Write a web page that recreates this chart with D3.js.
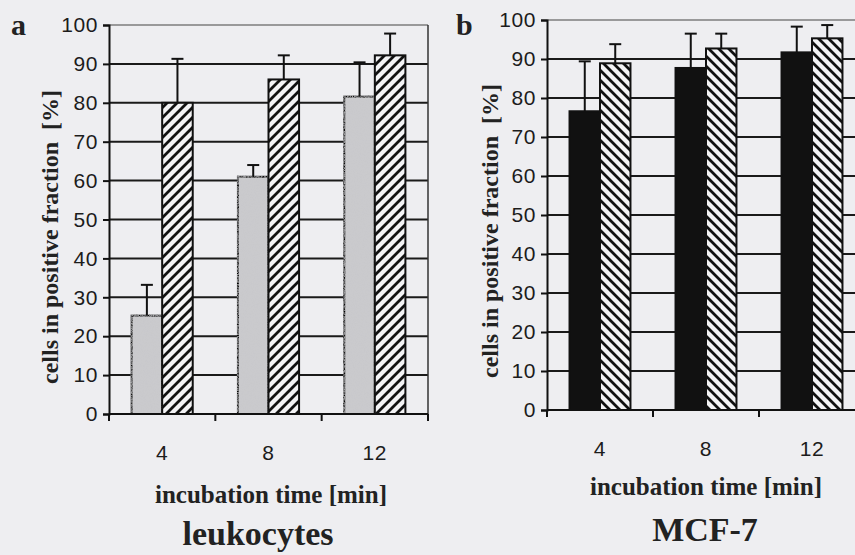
<!DOCTYPE html>
<html>
<head>
<meta charset="utf-8">
<script src="https://cdn.jsdelivr.net/npm/d3@7"></script>
<style>
  body { margin: 0; background: #eeeef1; }
  svg { display: block; }
</style>
</head>
<body>
<div id="chart"></div>
<script>
// categories and values
var times = ['4', '8', '12'];
var yTicks = [0, 10, 20, 30, 40, 50, 60, 70, 80, 90, 100];

var leukGray = [25.3, 61, 81.6];
var leukGrayErr = [7.9, 3, 8.8];
var leukHatch = [80, 86, 92.2];
var leukHatchErr = [11.3, 6.2, 5.6];

var mcfBlack = [76.6, 87.7, 91.7];
var mcfBlackErr = [12.8, 8.8, 6.6];
var mcfHatch = [88.9, 92.7, 95.3];
var mcfHatchErr = [4.9, 3.8, 3.4];

var W = 855, H = 555;
var serif = '"Liberation Serif", "Times New Roman", serif';
var sans = '"Liberation Sans", Arial, sans-serif';

var svg = d3.select('#chart').append('svg')
    .attr('width', W)
    .attr('height', H);

svg.append('rect').attr('width', W).attr('height', H).attr('fill', '#eeeef1');

var defs = svg.append('defs');

//hatch patterns, forward for leukocytes, backward for MCF-7
function makeHatch(id, d) {
    var p = defs.append('pattern')
        .attr('id', id)
        .attr('patternUnits', 'userSpaceOnUse')
        .attr('width', 10).attr('height', 10);
    p.append('rect').attr('width', 10).attr('height', 10).attr('fill', '#f3f3f5');
    p.append('path')
        .attr('d', d)
        .attr('stroke', '#111').attr('stroke-width', 2.8);
}
makeHatch('hatchFwd', 'M0,10 L10,0 M-3,3 L3,-3 M7,13 L13,7');
makeHatch('hatchBack', 'M0,0 L10,10 M-3,7 L3,13 M7,-3 L13,3');

//grainy gray for leukocytes bars
var grain = defs.append('filter').attr('id', 'grain');
grain.append('feTurbulence')
    .attr('type', 'fractalNoise').attr('baseFrequency', 0.9)
    .attr('numOctaves', 2).attr('seed', 3).attr('result', 'n');
grain.append('feColorMatrix')
    .attr('in', 'n').attr('type', 'matrix')
    .attr('values', '0 0 0 0 0.6  0 0 0 0 0.6  0 0 0 0 0.62  0 0 0 -1.2 0.85')
    .attr('result', 'dots');
grain.append('feComposite').attr('in', 'dots').attr('in2', 'SourceGraphic').attr('operator', 'in').attr('result', 'd2');
grain.append('feMerge').selectAll('feMergeNode')
    .data(['SourceGraphic', 'd2']).enter().append('feMergeNode').attr('in', function(d) { return d; });

function drawPanel(opt) {
    var x = d3.scaleBand()
        .domain(times)
        .range([opt.left, opt.right])
        .paddingInner(0.425)
        .paddingOuter(0.2125);

    var sub = d3.scaleBand()
        .domain([0, 1])
        .range([0, x.bandwidth()]);

    var y = d3.scaleLinear()
        .domain([0, 100])
        .range([opt.bottom, opt.top]);

    var g = svg.append('g');

    //gridlines
    g.append('g').selectAll('line')
        .data(yTicks.filter(function(d) { return d > 0 && d < 100; }))
        .enter().append('line')
            .attr('x1', opt.left).attr('x2', opt.right)
            .attr('y1', function(d) { return y(d); })
            .attr('y2', function(d) { return y(d); })
            .attr('stroke', '#1a1a1a').attr('stroke-width', 2);

    //top and right border of the plot area
    g.append('line')
        .attr('x1', opt.left).attr('x2', opt.right)
        .attr('y1', y(100)).attr('y2', y(100))
        .attr('stroke', '#444').attr('stroke-width', 1.2);
    g.append('line')
        .attr('x1', opt.right).attr('x2', opt.right)
        .attr('y1', y(100)).attr('y2', y(0))
        .attr('stroke', '#333').attr('stroke-width', 1.5);

    var series = [
        {vals: opt.v1, errs: opt.e1, fill: opt.fill1, filter: opt.filter1},
        {vals: opt.v2, errs: opt.e2, fill: opt.fill2, filter: null}
    ];

    series.forEach(function(s, si) {
        g.append('g').selectAll('rect')
            .data(s.vals)
            .enter().append('rect')
                .attr('x', function(d, i) { return x(times[i]) + sub(si); })
                .attr('y', function(d) { return y(d); })
                .attr('width', sub.bandwidth())
                .attr('height', function(d) { return y(0) - y(d); })
                .attr('fill', s.fill)
                .attr('filter', s.filter ? 'url(#' + s.filter + ')' : null)
                .attr('stroke', '#111').attr('stroke-width', 2);

        //error bars (upper only)
        var eb = g.append('g').attr('stroke', '#111').attr('stroke-width', 2);
        s.vals.forEach(function(d, i) {
            var cx = x(times[i]) + sub(si) + sub.bandwidth() / 2;
            eb.append('line')
                .attr('x1', cx).attr('x2', cx)
                .attr('y1', y(d)).attr('y2', y(d + s.errs[i]));
            eb.append('line')
                .attr('x1', cx - 6).attr('x2', cx + 6)
                .attr('y1', y(d + s.errs[i])).attr('y2', y(d + s.errs[i]));
        });
    });

    //y axis
    var yAxis = d3.axisLeft(y).tickValues(yTicks).tickSize(6).tickPadding(5);
    var ya = g.append('g')
        .attr('transform', 'translate(' + opt.left + ',0)')
        .call(yAxis);
    ya.select('.domain').attr('stroke', '#111').attr('stroke-width', 2);
    ya.selectAll('.tick line').attr('stroke', '#111').attr('stroke-width', 2);
    ya.selectAll('.tick text')
        .attr('fill', '#1c1c1c')
        .style('font-family', sans)
        .style('font-size', '21px')
        .style('letter-spacing', '0.6px');

    //x axis, ticks at the category boundaries
    var xa = g.append('g')
        .attr('transform', 'translate(0,' + y(0) + ')');
    xa.append('line')
        .attr('x1', opt.left).attr('x2', opt.right)
        .attr('stroke', '#111').attr('stroke-width', 2);
    var bounds = times.map(function(d) { return x(d) - (x.step() - x.bandwidth()) / 2; });
    bounds.push(opt.right);
    xa.selectAll('.xt')
        .data(bounds)
        .enter().append('line')
            .attr('class', 'xt')
            .attr('x1', function(d) { return d; })
            .attr('x2', function(d) { return d; })
            .attr('y1', 0).attr('y2', 7)
            .attr('stroke', '#111').attr('stroke-width', 2);
    xa.selectAll('.xl')
        .data(times)
        .enter().append('text')
            .attr('class', 'xl')
            .attr('x', function(d) { return x(d) + x.bandwidth() / 2; })
            .attr('y', 46)
            .attr('text-anchor', 'middle')
            .attr('fill', '#1c1c1c')
            .style('font-family', sans)
            .style('font-size', '21px')
            .style('letter-spacing', '0.6px')
            .text(function(d) { return d; });

    //titles
    svg.append('text')
        .attr('x', opt.letterX).attr('y', 35)
        .style('font-family', serif)
        .style('font-weight', 'bold')
        .style('font-size', '30px')
        .attr('fill', '#222')
        .text(opt.letter);

    svg.append('text')
        .attr('transform', 'translate(' + opt.yTitleX + ',' + opt.yTitleY + ') rotate(-90)')
        .attr('text-anchor', 'middle')
        .style('font-family', serif)
        .style('font-weight', 'bold')
        .style('font-size', '24px')
        .style('white-space', 'pre')
        .attr('fill', '#222')
        .text('cells in positive fraction  [%]');

    svg.append('text')
        .attr('x', opt.xTitleX).attr('y', opt.xTitleY)
        .attr('text-anchor', 'middle')
        .style('font-family', serif)
        .style('font-weight', 'bold')
        .style('font-size', '25px')
        .attr('fill', '#222')
        .text('incubation time [min]');

    svg.append('text')
        .attr('x', opt.nameX).attr('y', opt.nameY)
        .attr('text-anchor', 'middle')
        .style('font-family', serif)
        .style('font-weight', 'bold')
        .style('font-size', '34px')
        .attr('fill', '#222')
        .text(opt.name);
}

drawPanel({
    left: 109, right: 428, top: 25, bottom: 414,
    v1: leukGray, e1: leukGrayErr, fill1: '#c9c9cc', filter1: 'grain',
    v2: leukHatch, e2: leukHatchErr, fill2: 'url(#hatchFwd)',
    letter: 'a', letterX: 11,
    yTitleX: 58, yTitleY: 237,
    xTitleX: 271, xTitleY: 503,
    nameX: 258, nameY: 545, name: 'leukocytes'
});

drawPanel({
    left: 547, right: 865, top: 20, bottom: 410,
    v1: mcfBlack, e1: mcfBlackErr, fill1: '#111', filter1: null,
    v2: mcfHatch, e2: mcfHatchErr, fill2: 'url(#hatchBack)',
    letter: 'b', letterX: 456,
    yTitleX: 498, yTitleY: 231,
    xTitleX: 706, xTitleY: 495,
    nameX: 705, nameY: 541, name: 'MCF-7'
});
</script>
</body>
</html>
